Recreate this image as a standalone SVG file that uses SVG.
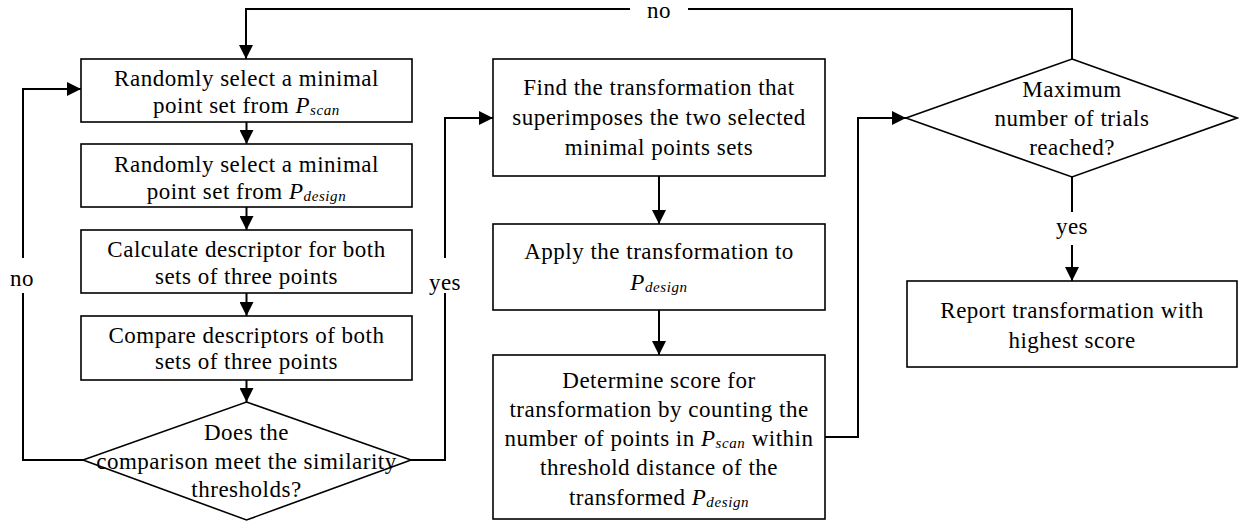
<svg xmlns="http://www.w3.org/2000/svg" width="1239" height="523" viewBox="0 0 1239 523">
<style>
.box{fill:#fff;stroke:#000;stroke-width:1.6}
.t{font-size:23px;letter-spacing:0.5px;fill:#000;text-anchor:middle}
.i{font-style:italic}
.sub{font-style:italic;font-size:15px;letter-spacing:0.6px}
.c{fill:none;stroke:#000;stroke-width:2}
</style>
<defs>
<marker id="ah" viewBox="0 0 10 10" refX="10" refY="5" markerWidth="7" markerHeight="7" orient="auto" markerUnits="strokeWidth">
<path d="M0,0 L10,5 L0,10 z" fill="#000"/>
</marker>
</defs>
<rect width="1239" height="523" fill="#fff"/>
<g font-family="Liberation Serif, Times New Roman, serif">
<g id="connectors">
<path class="c" d="M246.5,122 V144" marker-end="url(#ah)"/>
<path class="c" d="M246.5,207 V230" marker-end="url(#ah)"/>
<path class="c" d="M246.5,293 V316" marker-end="url(#ah)"/>
<path class="c" d="M246.5,380 V402" marker-end="url(#ah)"/>
<path class="c" d="M83,460 H23 V293"/>
<path class="c" d="M23,258 V89 H81" marker-end="url(#ah)"/>
<path class="c" d="M411,460 H445 V293"/>
<path class="c" d="M445,258 V118 H493" marker-end="url(#ah)"/>
<path class="c" d="M659,176 V224" marker-end="url(#ah)"/>
<path class="c" d="M659,310 V355" marker-end="url(#ah)"/>
<path class="c" d="M825,437 H858 V118 H906" marker-end="url(#ah)"/>
<path class="c" d="M1072,59 V9 H688"/>
<path class="c" d="M630,9 H246 V59" marker-end="url(#ah)"/>
<path class="c" d="M1072,177 V212"/>
<path class="c" d="M1072,245 V281" marker-end="url(#ah)"/>
<text class="t" x="659" y="18">no</text>
<text class="t" x="22" y="286">no</text>
<text class="t" x="445" y="290">yes</text>
<text class="t" x="1072" y="234">yes</text>
</g>
<g id="n1">
<rect class="box" x="81" y="59" width="331" height="63"/>
<text class="t" x="246.5" y="86">Randomly select a minimal</text>
<text class="t" x="246.5" y="113">point set from <tspan class="i">P</tspan><tspan class="sub" dy="2">scan</tspan></text>
</g>
<g id="n2">
<rect class="box" x="81" y="144" width="331" height="63"/>
<text class="t" x="246.5" y="172">Randomly select a minimal</text>
<text class="t" x="246.5" y="199">point set from <tspan class="i">P</tspan><tspan class="sub" dy="2">design</tspan></text>
</g>
<g id="n3">
<rect class="box" x="81" y="230" width="331" height="63"/>
<text class="t" x="246.5" y="257">Calculate descriptor for both</text>
<text class="t" x="246.5" y="284">sets of three points</text>
</g>
<g id="n4">
<rect class="box" x="81" y="316" width="331" height="64"/>
<text class="t" x="246.5" y="343">Compare descriptors of both</text>
<text class="t" x="246.5" y="369">sets of three points</text>
</g>
<g id="d1">
<polygon class="box" points="246.5,402 411,460 246.5,520 83,460"/>
<text class="t" x="246.5" y="440">Does the</text>
<text class="t" x="246.5" y="469">comparison meet the similarity</text>
<text class="t" x="246.5" y="497">thresholds?</text>
</g>
<g id="m1">
<rect class="box" x="493" y="59" width="332" height="117"/>
<text class="t" x="659" y="95">Find the transformation that</text>
<text class="t" x="659" y="125">superimposes the two selected</text>
<text class="t" x="659" y="155">minimal points sets</text>
</g>
<g id="m2">
<rect class="box" x="493" y="224" width="332" height="86"/>
<text class="t" x="659" y="259">Apply the transformation to</text>
<text class="t" x="659" y="290"><tspan class="i">P</tspan><tspan class="sub" dy="2">design</tspan></text>
</g>
<g id="m3">
<rect class="box" x="493" y="355" width="332" height="164"/>
<text class="t" x="659" y="388">Determine score for</text>
<text class="t" x="659" y="417">transformation by counting the</text>
<text class="t" x="659" y="446">number of points in <tspan class="i">P</tspan><tspan class="sub" dy="2">scan</tspan><tspan dy="-2"> within</tspan></text>
<text class="t" x="659" y="475">threshold distance of the</text>
<text class="t" x="659" y="505">transformed <tspan class="i">P</tspan><tspan class="sub" dy="2">design</tspan></text>
</g>
<g id="d2">
<polygon class="box" points="1072,59 1237,118 1072,177 906,118"/>
<text class="t" x="1072" y="97">Maximum</text>
<text class="t" x="1072" y="126">number of trials</text>
<text class="t" x="1072" y="155">reached?</text>
</g>
<g id="r1">
<rect class="box" x="907" y="281" width="330" height="86"/>
<text class="t" x="1072" y="318">Report transformation with</text>
<text class="t" x="1072" y="348">highest score</text>
</g>
</g>
</svg>
